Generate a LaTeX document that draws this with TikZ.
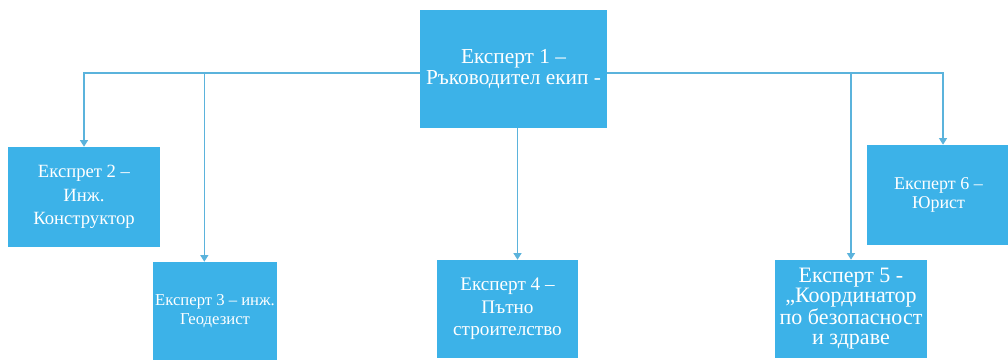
\documentclass[tikz,border=0pt]{standalone}
\usepackage{fontspec}
\setmainfont{Liberation Serif}
\usetikzlibrary{arrows.meta}
\definecolor{boxblue}{HTML}{3CB2E8}
\definecolor{lineblue}{HTML}{5BB3DC}

\begin{document}
\begin{tikzpicture}[x=0.75pt,y=-0.75pt,
  expbox/.style={fill=boxblue,text=white,align=center,inner sep=2pt},
  link/.style={draw=lineblue,line width=1pt},
  tolink/.style={link,-{Triangle[width=6pt,length=5pt]}}]

\useasboundingbox (0,0) rectangle (1008,364);

\node [expbox,minimum width=140pt,minimum height=88.5pt,font=\fontsize{16}{16}\selectfont] (e1) at (513.5,69) {Експерт 1 –\\Ръководител екип -};
\node [expbox,minimum width=114pt,minimum height=75pt,font=\fontsize{14}{17.5}\selectfont] (e2) at (84,197) {Експрет 2 –\\Инж.\\Конструктор};
\node [expbox,minimum width=93pt,minimum height=73.5pt,font=\fontsize{12.5}{14}\selectfont] (e3) at (215,311) {Експерт 3 – инж.\\Геодезист};
\node [expbox,minimum width=105.75pt,minimum height=73.5pt,font=\fontsize{14.4}{17}\selectfont] (e4) at (507.5,309) {Експерт 4 –\\Пътно\\строителство};
\node [expbox,minimum width=114pt,minimum height=73.5pt,font=\fontsize{16.5}{15}\selectfont] (e5) at (851,309) {Експерт 5 -\\„Координатор\\по безопасност\\и здраве};
\node [expbox,minimum width=107.25pt,minimum height=75pt,font=\fontsize{13.5}{14}\selectfont] (e6) at (938.5,195) {Експерт 6 –\\Юрист};

\coordinate (hub) at (513.5,73);

\draw [tolink] (e1.west |- hub) -| (e2);
\draw [tolink] (e1.west |- hub) -| ([xshift=-8pt]e3.north);
\draw [tolink] ([xshift=3pt]e1.south) -- ([xshift=3pt]e1.south |- e4.north);
\draw [tolink] (e1.east |- hub) -| (e5);
\draw [tolink] (e1.east |- hub) -| ([xshift=3.4pt]e6.north);

\end{tikzpicture}
\end{document}
